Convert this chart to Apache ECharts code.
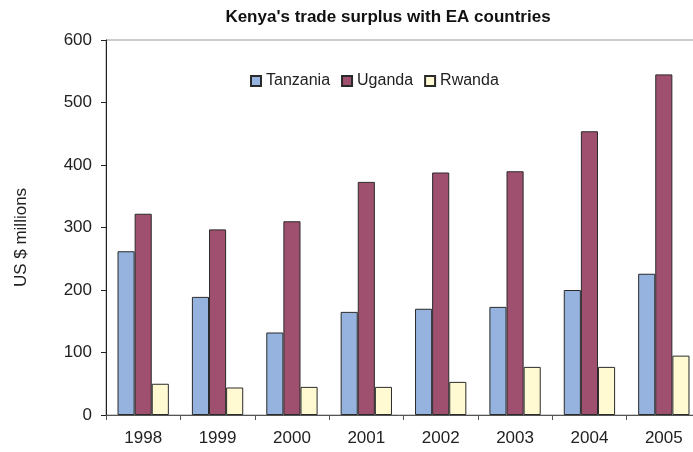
<!DOCTYPE html>
<html>
<head>
<meta charset="utf-8">
<script src="https://cdn.jsdelivr.net/npm/echarts@6/dist/echarts.min.js"></script>
<style>
  html, body { margin: 0; padding: 0; background: #ffffff; }
  #chart { width: 693px; height: 452px; }
</style>
</head>
<body>
<div id="chart"></div>
<script>
  var years = ['1998', '1999', '2000', '2001', '2002', '2003', '2004', '2005'];
  var tanzania = [262, 189, 132, 165, 170, 173, 200, 226];
  var uganda = [322, 297, 310, 373, 388, 390, 454, 545];
  var rwanda = [50, 44, 45, 45, 53, 77, 77, 95];
  var yTicks = [0, 100, 200, 300, 400, 500, 600];

  var myChart = echarts.init(document.getElementById('chart'));
  var font = 'Liberation Sans, Arial, sans-serif';

  function barSeries(name, data, color) {
    return {
      name: name,
      type: 'bar',
      data: data,
      barGap: '0%',
      barCategoryGap: '31%',
      itemStyle: { color: color, borderColor: '#2a2a2a', borderWidth: 1 }
    };
  }

  var option = {
    backgroundColor: '#ffffff',
    animation: false,
    title: {
      text: "Kenya's trade surplus with EA countries",
      left: 383, top: 4, textAlign: 'center',
      textStyle: { fontFamily: font, fontSize: 17, fontWeight: 'bold', color: '#111' }
    },
    legend: {
      data: ['Tanzania', 'Uganda', 'Rwanda'],
      left: 245, top: 68,
      itemWidth: 10, itemHeight: 10, itemGap: 11,
      icon: 'rect',
      textStyle: { fontFamily: font, fontSize: 16, color: '#222' }
    },
    grid: {
      left: 106, top: 40, width: 595, height: 375,
      outerBoundsMode: 'none',
      show: true, borderColor: '#999', borderWidth: 1
    },
    xAxis: {
      type: 'category',
      data: years,
      axisLine: { lineStyle: { color: '#555' } },
      axisTick: { show: true, length: 5, lineStyle: { color: '#555' } },
      axisLabel: { fontFamily: font, fontSize: 17, color: '#222', margin: 15 }
    },
    yAxis: {
      type: 'value',
      min: yTicks[0], max: yTicks[yTicks.length - 1], interval: 100,
      name: 'US $ millions',
      nameLocation: 'middle', nameGap: 76, nameRotate: 90,
      nameTextStyle: { fontFamily: font, fontSize: 17, color: '#222', padding: [0, 20, 0, 0] },
      axisLine: { show: true, lineStyle: { color: '#222' } },
      axisTick: { show: true, length: 5, lineStyle: { color: '#222' } },
      splitLine: { show: false },
      axisLabel: { fontFamily: font, fontSize: 17, color: '#222', margin: 14 }
    },
    series: [
      barSeries('Tanzania', tanzania, '#95b3de'),
      barSeries('Uganda', uganda, '#a0506f'),
      barSeries('Rwanda', rwanda, '#fffad2')
    ]
  };
  myChart.setOption(option);
</script>
</body>
</html>
